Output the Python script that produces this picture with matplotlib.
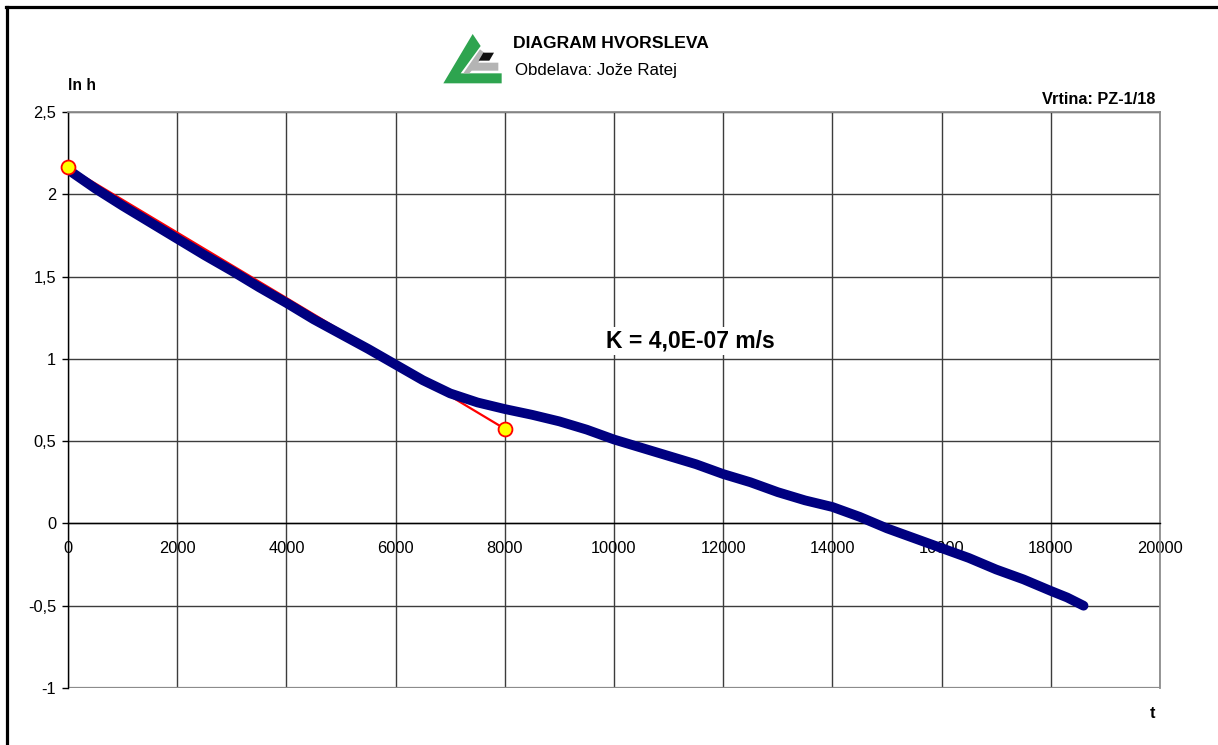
import matplotlib
matplotlib.use("Agg")
import matplotlib.pyplot as plt
from matplotlib.lines import Line2D
from matplotlib.patches import Polygon

plt.rcParams['font.family'] = ['Liberation Sans', 'DejaVu Sans']

# ---- data ----
t = [0, 500, 1000, 1500, 2000, 2500, 3000, 3500, 4000, 4500, 5000, 5500,
     6000, 6500, 7000, 7500, 8000, 8500, 9000, 9500, 10000, 10500, 11000,
     11500, 12000, 12500, 13000, 13500, 14000, 14500, 15000, 15500, 16000,
     16500, 17000, 17500, 18000, 18300, 18600]
ln_h = [2.15, 2.035, 1.93, 1.83, 1.73, 1.63, 1.535, 1.435, 1.34, 1.24, 1.15,
        1.06, 0.965, 0.87, 0.79, 0.735, 0.695, 0.66, 0.62, 0.57, 0.51, 0.46,
        0.41, 0.36, 0.30, 0.25, 0.19, 0.14, 0.10, 0.04, -0.03, -0.09, -0.15,
        -0.21, -0.28, -0.34, -0.41, -0.45, -0.50]
fit_t = [0, 8000]
fit_y = [2.165, 0.575]

x_ticks = [0, 2000, 4000, 6000, 8000, 10000, 12000, 14000, 16000, 18000, 20000]
y_ticks = [-1, -0.5, 0, 0.5, 1, 1.5, 2, 2.5]
y_tick_labels = ['-1', '-0,5', '0', '0,5', '1', '1,5', '2', '2,5']

W, H = 1218, 745
fig = plt.figure(figsize=(W / 100, H / 100), dpi=100)
fig.patch.set_facecolor('white')

def fx(px):
    return px / W

def fy(py):
    return 1 - py / H

ax = fig.add_axes([fx(68), fy(688), fx(1160) - fx(68), fy(112) - fy(688)])
ax.set_xlim(0, 20000)
ax.set_ylim(-1, 2.5)

ax.set_xticks(x_ticks)
ax.set_xticklabels([str(v) for v in x_ticks])
ax.set_yticks(y_ticks)
ax.set_yticklabels(y_tick_labels)

grid_c = '#3c3c3c'
ax.grid(True, color=grid_c, linewidth=1.0, zorder=0)
ax.set_axisbelow(True)

for s in ['top', 'right']:
    ax.spines[s].set_color('#8c8c8c')
    ax.spines[s].set_linewidth(1.3)
ax.spines['left'].set_color('black')
ax.spines['left'].set_linewidth(1.0)
ax.spines['bottom'].set_position(('data', 0))
ax.spines['bottom'].set_color('black')
ax.spines['bottom'].set_linewidth(1.0)
ax.axhline(-1, color='#8c8c8c', linewidth=1.6, zorder=1)

ax.tick_params(axis='y', direction='out', length=4.5, width=1.0,
               labelsize=11.8, pad=4)
ax.tick_params(axis='x', direction='out', length=0, labelsize=11.8, pad=13)

# data series
ax.plot(fit_t, fit_y, color='#ff0000', linewidth=1.6, zorder=2)
ax.plot(t, ln_h, color='#000080', linewidth=7, solid_capstyle='round',
        solid_joinstyle='round', zorder=3)
ax.plot(fit_t, fit_y, linestyle='none', marker='o', markersize=10,
        markerfacecolor='#ffff00', markeredgecolor='#ff0000',
        markeredgewidth=1.3, zorder=5, clip_on=False)

ax.text(11400, 1.11, 'K = 4,0E-07 m/s', fontsize=16.5, fontweight='bold',
        ha='center', va='center', zorder=6,
        bbox=dict(facecolor='white', edgecolor='none', pad=2))

# texts around
fig.text(fx(68), fy(85), 'ln h', fontsize=11.3, fontweight='bold',
         ha='left', va='center')
fig.text(fx(1155), fy(99), 'Vrtina: PZ-1/18', fontsize=11.7,
         fontweight='bold', ha='right', va='center')
fig.text(fx(1153), fy(713), 't', fontsize=11.7, fontweight='bold',
         ha='center', va='center')
fig.text(fx(513), fy(44), 'DIAGRAM HVORSLEVA', fontsize=12.6,
         fontweight='bold', ha='left', va='center')
fig.text(fx(515), fy(71), 'Obdelava: Jože Ratej', fontsize=12.2,
         ha='left', va='center')

# logo (decoration)
def zp(pts):
    return [(fx(430 + zx / 3), fy(20 + zy / 3)) for zx, zy in pts]

green = Polygon(zp([(40, 190), (128, 42), (152, 78), (92, 160), (215, 160),
                    (215, 190)]), closed=True, transform=fig.transFigure,
                facecolor='#2ea44f', edgecolor='none')
gray = Polygon(zp([(100, 160), (150, 88), (165, 100), (145, 128), (205, 128),
                   (205, 152), (125, 152), (118, 160)]), closed=True,
               transform=fig.transFigure, facecolor='#b4b4b4', edgecolor='none')
black = Polygon(zp([(160, 98), (192, 98), (178, 122), (146, 122)]),
                closed=True, transform=fig.transFigure, facecolor='#111111',
                edgecolor='none')
for p in (green, gray, black):
    fig.add_artist(p)

# figure border (left and top)
fig.add_artist(Line2D([fx(7), fx(7)], [fy(745), fy(7)], transform=fig.transFigure,
                      color='black', linewidth=2.3))
fig.add_artist(Line2D([fx(6), fx(1218)], [fy(7), fy(7)], transform=fig.transFigure,
                      color='black', linewidth=2.3))

fig.savefig('out.png', dpi=100, facecolor='white')
